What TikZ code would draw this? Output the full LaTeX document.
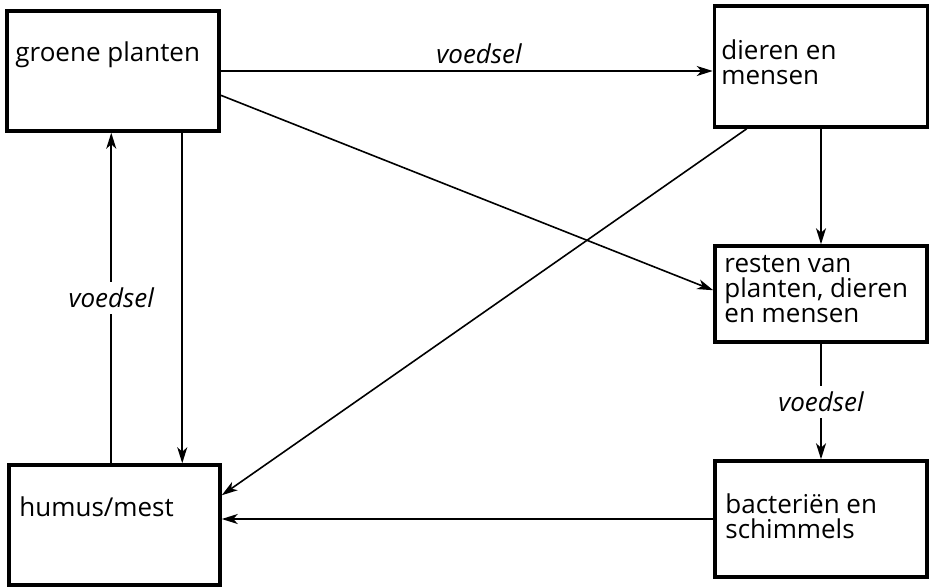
\documentclass[tikz,border=0pt]{standalone}
\usepackage{fontspec}
\setmainfont{Open Sans}
\usetikzlibrary{arrows.meta,calc}
\begin{document}
\begin{tikzpicture}[x=1pt,y=-1pt,
  box/.style={draw,line width=3.5pt,inner sep=0pt,minimum width=#1},
  txt/.style={inner sep=0pt,anchor=base west,align=left,font=\fontsize{26}{25}\selectfont},
  lab/.style={font=\fontsize{26}{25}\selectfont\itshape,fill=white,inner sep=6pt},
  arr/.style={line width=1.6pt,-{Stealth[length=16pt,width=10pt,inset=4.5pt]}}]
\useasboundingbox (0,0) rectangle (931,587);
% boxes
\node[box=212pt,minimum height=120pt] (gp) at (113,71) {};
\node[box=213pt,minimum height=121pt] (dm) at (821,66.5) {};
\node[box=212pt,minimum height=96pt] (rs) at (821,294) {};
\node[box=212pt,minimum height=116pt] (bc) at (821,519) {};
\node[box=211pt,minimum height=120pt] (hm) at (114.5,525) {};
% texts (base anchor = baseline of the last line)
\node[txt] (tgp) at ($(gp.north west)+(10,52)$) {groene planten};
\node[txt] (tdm) at ($(dm.north west)+(8.5,80)$) {dieren en\\mensen};
\node[txt] (trs) at ($(rs.north west)+(11,78)$) {resten van\\planten, dieren\\en mensen};
\node[txt] (tbc) at ($(bc.north west)+(12,79)$) {bacteriën en\\schimmels};
\node[txt] (thm) at ($(hm.north west)+(12,53)$) {humus/mest};
% connectors
\draw[arr] (gp.east) -- (gp.east -| dm.west)
  node[lab,fill=none,inner sep=0pt,pos=0.525,anchor=base,yshift=8pt] (l1) {voedsel};
\draw[arr] ($(gp.north east)+(0,86)$) -- ($(rs.north west)+(0,46)$);
\draw[arr] ($(dm.south west)+(34,0)$) -- ($(hm.north east)+(0,32)$);
\draw[arr] (dm.south) -- (rs.north);
\draw[arr] (rs.south) -- (bc.north) node[lab,midway] (l2) {voedsel};
\draw[arr] (bc.west) -- (bc.west -| hm.east);
\draw[arr] ($(hm.north west)+(104,0)$) -- ($(gp.south west)+(106,0)$) node[lab,pos=0.5] (l3) {voedsel};
\draw[arr] ($(gp.south west)+(177,0)$) -- ($(hm.north west)+(175,0)$);
\end{tikzpicture}
\end{document}
